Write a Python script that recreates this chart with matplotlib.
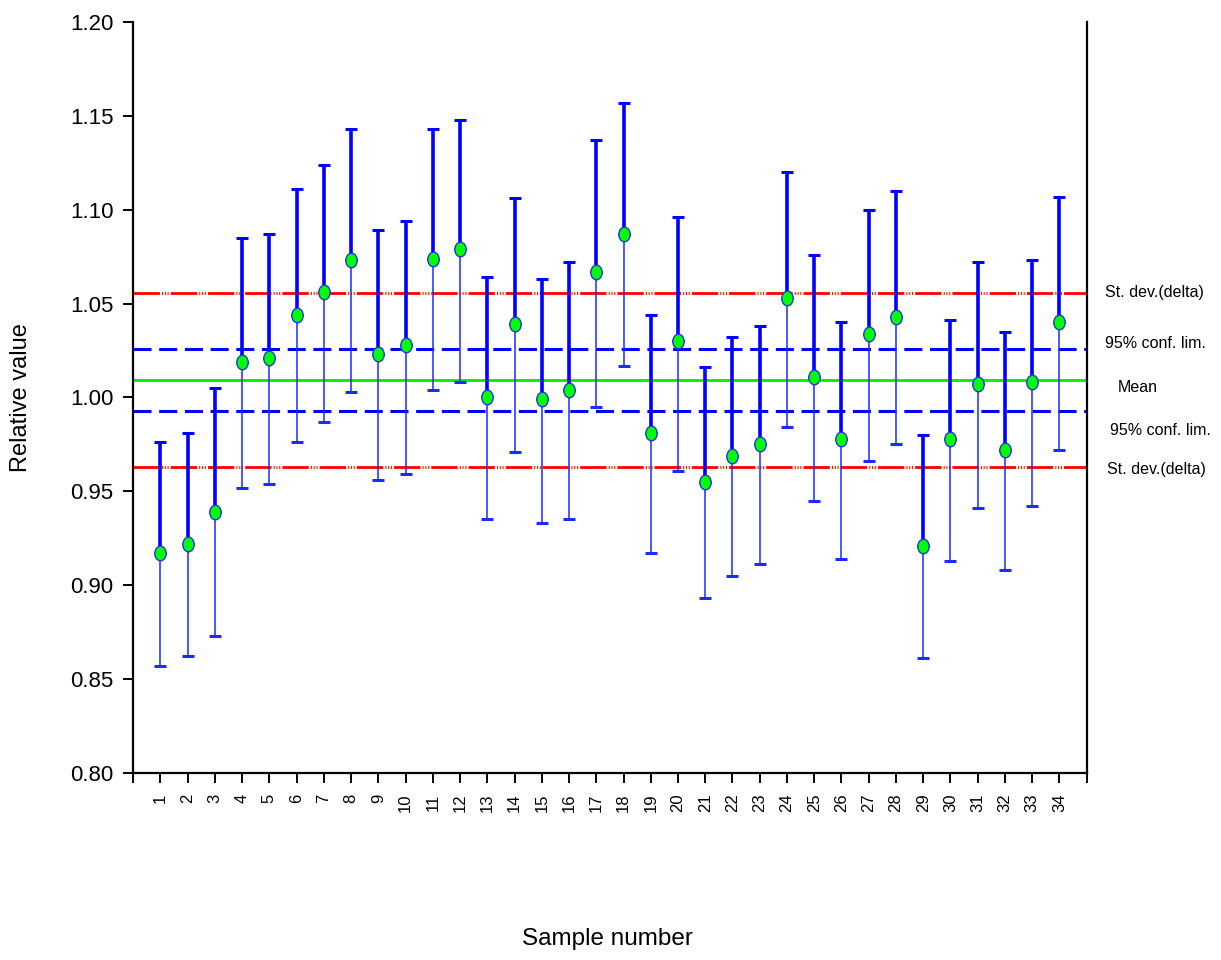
import numpy as np
import matplotlib
matplotlib.use('Agg')
import matplotlib.pyplot as plt
from matplotlib.markers import MarkerStyle
from matplotlib.transforms import Affine2D

# relative value per sample, with upper / lower limits of the error bar
samples = np.arange(1, 35)
values = [0.917, 0.922, 0.939, 1.019, 1.021, 1.044, 1.056, 1.073, 1.023, 1.028,
          1.074, 1.079, 1.000, 1.039, 0.999, 1.004, 1.067, 1.087, 0.981, 1.030,
          0.955, 0.969, 0.975, 1.053, 1.011, 0.978, 1.034, 1.043, 0.921, 0.978,
          1.007, 0.972, 1.008, 1.040]
upper = [0.976, 0.981, 1.005, 1.085, 1.087, 1.111, 1.124, 1.143, 1.089, 1.094,
         1.143, 1.148, 1.064, 1.106, 1.063, 1.072, 1.137, 1.157, 1.044, 1.096,
         1.016, 1.032, 1.038, 1.120, 1.076, 1.040, 1.100, 1.110, 0.980, 1.041,
         1.072, 1.035, 1.073, 1.107]
lower = [0.857, 0.862, 0.873, 0.952, 0.954, 0.976, 0.987, 1.003, 0.956, 0.959,
         1.004, 1.008, 0.935, 0.971, 0.933, 0.935, 0.995, 1.017, 0.917, 0.961,
         0.893, 0.905, 0.911, 0.984, 0.945, 0.914, 0.966, 0.975, 0.861, 0.913,
         0.941, 0.908, 0.942, 0.972]

# reference levels
mean_level = 1.0095
conf_levels = [1.0257, 0.9930]
sd_levels = [1.0557, 0.9630]
ytick_vals = [0.80, 0.85, 0.90, 0.95, 1.00, 1.05, 1.10, 1.15, 1.20]

values = np.array(values)
upper = np.array(upper)
lower = np.array(lower)

plt.rcParams['lines.scale_dashes'] = False
plt.rcParams['font.family'] = ['Liberation Sans', 'DejaVu Sans']

fig = plt.figure(figsize=(12.21, 9.6), dpi=100)
ax = fig.add_axes([0.109, 0.195, 0.781, 0.782])

# horizontal reference lines
for lvl in sd_levels:
    ax.axhline(lvl, color='#ff0000', lw=2.0, dashes=(19, 1.5, 0.8, 1.2, 0.8, 1.2, 0.8, 1.5), zorder=1)
for lvl in conf_levels:
    ax.axhline(lvl, color='#0000ff', lw=2.2, dashes=(13, 5.5), zorder=1)
ax.axhline(mean_level, color='#00ee00', lw=2.0, zorder=1)

# upper half of the error bars (thick) and lower half (thin)
ax.errorbar(samples, values, yerr=[np.zeros_like(values), upper - values], fmt='none',
            ecolor='#0000ff', elinewidth=2.6, capsize=4.5, capthick=2.2, zorder=2)
ax.errorbar(samples, values, yerr=[values - lower, np.zeros_like(values)], fmt='none',
            ecolor='#1a2cff', elinewidth=1.1, capsize=4.5, capthick=2.2, zorder=2)

oval = MarkerStyle('o', transform=Affine2D().scale(0.78, 1.0))
ax.plot(samples, values, linestyle='none', marker=oval, markersize=10.5,
        markerfacecolor='#00ff00', markeredgecolor='#2233ee', markeredgewidth=1.0, zorder=3)

ax.set_xlim(0, 35)
ax.set_ylim(0.80, 1.20)
ax.set_xticks(np.arange(0, 36))
ax.set_xticklabels([''] + [str(s) for s in samples] + [''], rotation=90, fontsize=12)
ax.set_yticks(ytick_vals)
ax.set_yticklabels(['%.2f' % v for v in ytick_vals], fontsize=16)

ax.spines['top'].set_visible(False)
for side in ['left', 'bottom', 'right']:
    ax.spines[side].set_linewidth(1.6)
ax.tick_params(axis='both', direction='out', length=7, width=1.4, colors='black')
ax.tick_params(axis='y', pad=7)
ax.tick_params(axis='x', pad=8)

ax.set_xlabel('Sample number', fontsize=17.5, va='center')
ax.xaxis.set_label_coords(0.497, -0.222)
ax.set_ylabel('Relative value', fontsize=17, va='center')
ax.yaxis.set_label_coords(-0.118, 0.5)

# labels for the reference lines, right of the plot
ytr = ax.get_yaxis_transform()
side_labels = [
    ('St. dev.(delta)', sd_levels[0], 1.019, 0),
    ('95% conf. lim.', conf_levels[0], 1.019, 4),
    ('Mean', mean_level, 1.033, -6),
    ('95% conf. lim.', conf_levels[1], 1.024, -14),
    ('St. dev.(delta)', sd_levels[1], 1.021, -2),
]
for txt, lvl, xpos, dy in side_labels:
    ax.annotate(txt, xy=(xpos, lvl), xycoords=ytr, xytext=(0, dy), textcoords='offset points',
                ha='left', va='center', fontsize=11.5, annotation_clip=False)

fig.savefig('out.png', dpi=100)
